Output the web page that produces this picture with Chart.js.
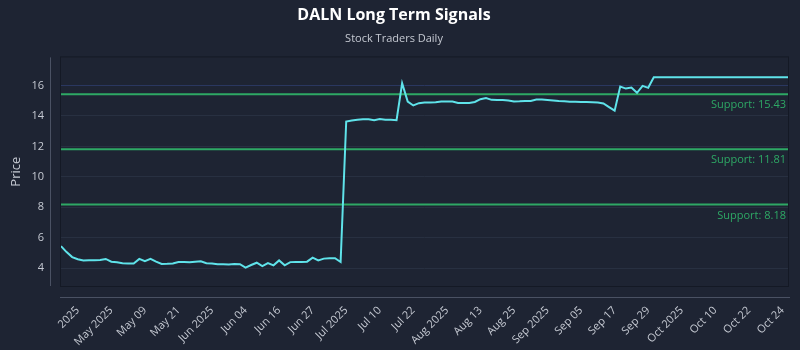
<!DOCTYPE html>
<html><head><meta charset="utf-8">
<script src="https://cdn.jsdelivr.net/npm/chart.js@4/dist/chart.umd.min.js"></script>
<style>html,body{margin:0;padding:0;background:#1e2433;}#wrap{width:800px;height:350px;}</style>
</head><body><div id="wrap"><canvas id="c" width="800" height="350"></canvas></div>
<script>
const priceValues = [
  5.44, 5.05, 4.72, 4.58, 4.50, 4.52, 4.52, 4.53, 4.60, 4.42,
  4.38, 4.32, 4.30, 4.30, 4.60, 4.45, 4.60, 4.42, 4.27, 4.28,
  4.30, 4.40, 4.40, 4.38, 4.42, 4.45, 4.32, 4.30, 4.25, 4.25,
  4.24, 4.26, 4.25, 4.03, 4.20, 4.35, 4.13, 4.33, 4.18, 4.50,
  4.18, 4.39, 4.40, 4.40, 4.42, 4.68, 4.50, 4.62, 4.65, 4.65,
  4.40, 13.63, 13.70, 13.75, 13.78, 13.78, 13.72, 13.80, 13.75, 13.75,
  13.72, 16.15, 14.95, 14.69, 14.84, 14.88, 14.88, 14.90, 14.95, 14.95,
  14.95, 14.86, 14.86, 14.86, 14.92, 15.10, 15.18, 15.06, 15.05, 15.05,
  15.02, 14.95, 14.96, 14.98, 14.98, 15.08, 15.08, 15.05, 15.02, 14.98,
  14.96, 14.94, 14.93, 14.92, 14.92, 14.90, 14.88, 14.82, 14.58, 14.35,
  15.93, 15.80, 15.87, 15.52, 15.98, 15.85, 16.55, 16.55, 16.55, 16.55,
  16.55, 16.55, 16.55, 16.55, 16.55, 16.55, 16.55, 16.55, 16.55, 16.55,
  16.55, 16.55, 16.55, 16.55, 16.55, 16.55, 16.55, 16.55, 16.55, 16.55,
  16.55
];
const tickLabels = ["2025","May 2025","May 09","May 21","Jun 2025","Jun 04","Jun 16","Jun 27",
  "Jul 2025","Jul 10","Jul 22","Aug 2025","Aug 13","Aug 25","Sep 2025","Sep 05","Sep 17",
  "Sep 29","Oct 2025","Oct 10","Oct 22","Oct 24"];
const tickStart = 3;
const tickStep = 6;
const supportLevels = [15.43, 11.81, 8.18];
const supportNames = ["Support: 15.43", "Support: 11.81", "Support: 8.18"];
const yTickValues = [4, 6, 8, 10, 12, 14, 16];
const yMin = 2.82;
const yMax = 17.85;

const categories = priceValues.map((_, i) => String(i));
const FONT = "'Open Sans', 'DejaVu Sans', sans-serif";
const GREEN = '#2ea865';

const supportSets = supportLevels.map((lv, k) => ({
  label: supportNames[k],
  data: [{x: categories[0], y: lv}, {x: categories[categories.length - 1], y: lv}],
  borderColor: GREEN, borderWidth: 2, pointRadius: 0, fill: false, tension: 0
}));

const framePlugin = {
  id: 'frame',
  beforeDraw(chart) {
    const {ctx} = chart;
    ctx.save();
    ctx.fillStyle = '#1e2433';
    ctx.fillRect(0, 0, chart.width, chart.height);
    ctx.restore();
  },
  afterDraw(chart) {
    const {ctx, chartArea: a, scales} = chart;
    ctx.save();
    ctx.strokeStyle = '#141925';
    ctx.lineWidth = 1;
    ctx.strokeRect(a.left - 0.5, a.top - 0.5, a.right - a.left + 1, a.bottom - a.top + 1);
    ctx.strokeStyle = '#4a5163';
    ctx.beginPath();
    ctx.moveTo(a.left - 10.5, a.top);
    ctx.lineTo(a.left - 10.5, a.bottom);
    ctx.moveTo(a.left - 1, a.bottom + 11.5);
    ctx.lineTo(a.right + 2, a.bottom + 11.5);
    ctx.stroke();
    ctx.fillStyle = GREEN;
    ctx.font = "11px " + FONT;
    ctx.textAlign = 'right';
    ctx.textBaseline = 'middle';
    supportLevels.forEach((lv, k) => {
      const y = scales.y.getPixelForValue(lv);
      ctx.fillText(supportNames[k], a.right - 2, y + 11);
    });
    ctx.restore();
  }
};

new Chart(document.getElementById('c'), {
  type: 'line',
  data: {
    labels: categories,
    datasets: [{
      label: 'DALN',
      data: priceValues,
      borderColor: '#5fe3ea', borderWidth: 2, pointRadius: 0, fill: false, tension: 0
    }, ...supportSets]
  },
  options: {
    responsive: false, animation: false,
    layout: {padding: {left: 0, right: 12, top: 0, bottom: 0}},
    plugins: {
      legend: {display: false},
      tooltip: {enabled: false},
      title: {display: true, text: 'DALN Long Term Signals', color: '#ffffff',
        font: {family: FONT, size: 16, weight: 'bold'}, padding: {top: 6, bottom: 4}},
      subtitle: {display: true, text: 'Stock Traders Daily', color: '#c5c9d2',
        font: {family: FONT, size: 11}, padding: {top: 3, bottom: 12}}
    },
    scales: {
      x: {
        type: 'category',
        grid: {display: false}, border: {display: false},
        afterFit(s) { s.height = 64; s.paddingLeft = 0; s.paddingRight = 0; },
        ticks: {
          autoSkip: false, minRotation: 45, maxRotation: 45, padding: 10,
          color: '#c5c9d2', font: {family: FONT, size: 11},
          callback(val, idx) {
            const k = idx - tickStart;
            return (k >= 0 && k % tickStep === 0) ? tickLabels[k / tickStep] : '';
          }
        }
      },
      y: {
        min: yMin, max: yMax,
        afterFit(s) { s.width = 61; },
        afterBuildTicks(s) { s.ticks = yTickValues.map(v => ({value: v})); },
        grid: {drawTicks: false, lineWidth: 1,
          color: (c) => c.tick && c.tick.value === 16 ? '#2a3760' : '#283041'},
        border: {display: false},
        title: {display: true, text: 'Price', color: '#c5c9d2', font: {family: FONT, size: 13}, padding: {top: 8, bottom: 4}},
        ticks: {color: '#c5c9d2', font: {family: FONT, size: 11}, padding: 17}
      }
    }
  },
  plugins: [framePlugin]
});
</script></body></html>
